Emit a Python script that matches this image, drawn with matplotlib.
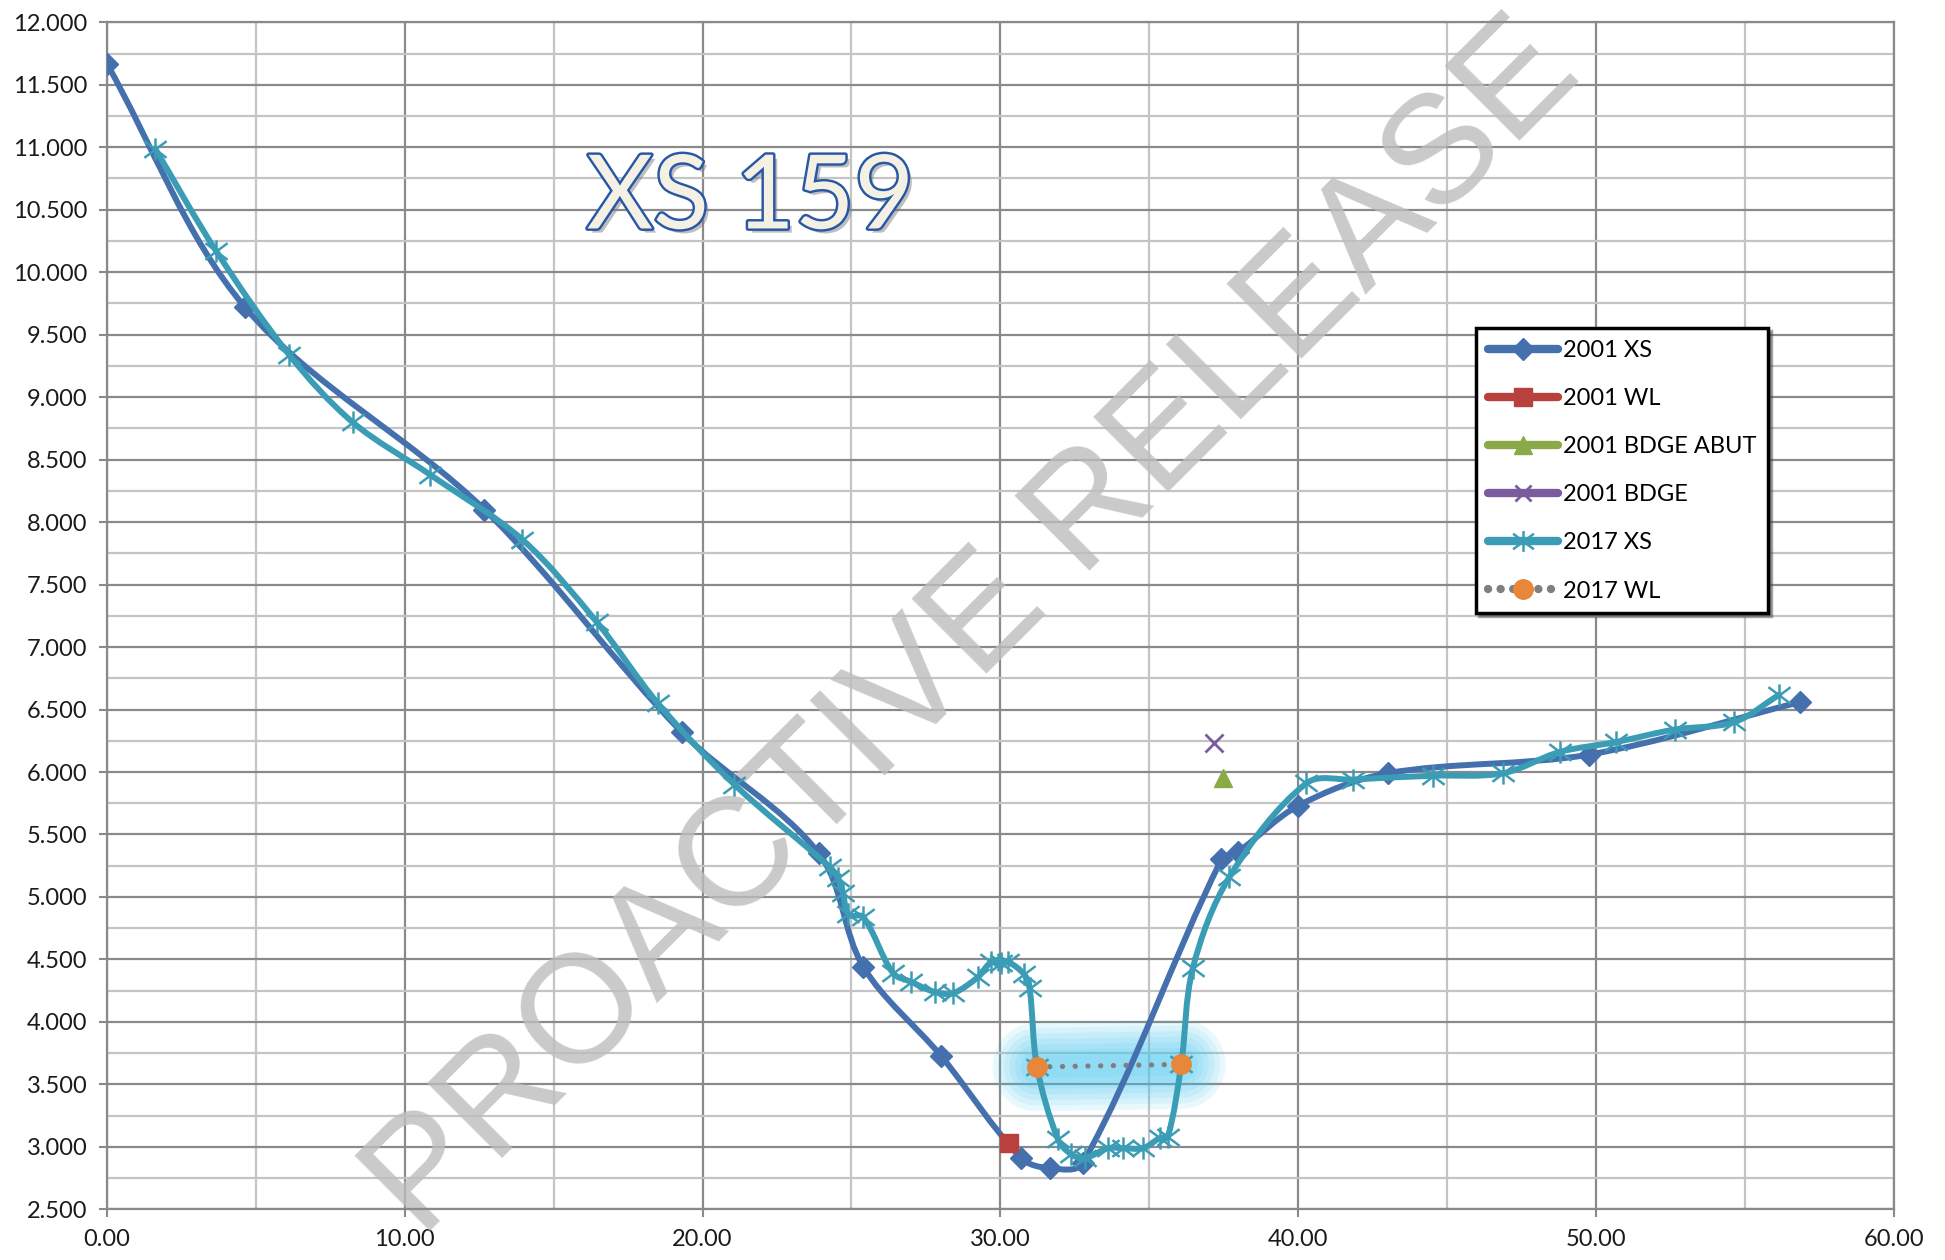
import matplotlib
matplotlib.use("Agg")
import matplotlib.pyplot as plt
import matplotlib.patheffects as pe
from matplotlib.lines import Line2D
from matplotlib.patches import PathPatch
from matplotlib.path import Path
from matplotlib.ticker import MultipleLocator, FormatStrFormatter
import numpy as np

# 2001 survey
XS2001_X = [0.0, 4.64, 12.68, 19.3, 23.9, 25.4, 28.0, 30.7, 31.65, 32.77,
            37.42, 37.97, 40.0, 43.0, 49.77, 56.85]
XS2001_Y = [11.67, 9.72, 8.10, 6.32, 5.35, 4.44, 3.73, 2.91, 2.83, 2.87,
            5.30, 5.36, 5.73, 5.99, 6.14, 6.56]
WL2001_X = [30.29]
WL2001_Y = [3.03]
ABUT2001_X = [37.47]
ABUT2001_Y = [5.95]
BDGE2001_X = [37.17]
BDGE2001_Y = [6.23]

# 2017 survey
XS2017_X = [1.62, 3.67, 6.12, 8.25, 10.85, 13.95, 16.45, 18.5, 21.07, 24.27,
            24.55, 24.72, 24.9, 25.39, 26.4, 27.01, 27.79, 28.41, 29.25, 29.7,
            30.03, 30.26, 30.8, 30.98, 31.23, 31.93, 32.38, 32.83, 33.61, 34.11,
            34.79, 35.35, 35.62, 36.07, 36.46, 37.69, 40.27, 41.83, 44.52, 46.87,
            48.77, 50.67, 52.63, 54.64, 56.15]
XS2017_Y = [10.99, 10.17, 9.34, 8.80, 8.38, 7.86, 7.20, 6.55, 5.90, 5.24,
            5.15, 5.03, 4.86, 4.84, 4.39, 4.32, 4.24, 4.23, 4.36, 4.48,
            4.47, 4.48, 4.38, 4.27, 3.64, 3.06, 2.94, 2.91, 2.99, 2.99,
            2.99, 3.07, 3.08, 3.66, 4.43, 5.16, 5.91, 5.94, 5.97, 5.99,
            6.16, 6.24, 6.34, 6.40, 6.62]
WL2017_X = [31.23, 36.07]
WL2017_Y = [3.64, 3.66]

BLUE = "#4470AE"
TEAL = "#3A9DB5"
RED = "#B8413E"
GREEN = "#8AAA48"
PURPLE = "#7A5C9E"
ORANGE = "#E8873A"
GRAY = "#7F7F7F"

# Excel style "star" marker: vertical bar plus an X
STAR = Path([(0, -1), (0, 1), (-1, -0.75), (1, 0.75), (-1, 0.75), (1, -0.75)],
            [Path.MOVETO, Path.LINETO] * 3)

# rough pixels per data unit, so the smoothing bends the same way on screen
SX, SY = 29.8, 125.0


def smooth_path(xs, ys, t=0.33):
    pts = np.column_stack([np.asarray(xs) * SX, np.asarray(ys) * SY])
    n = len(pts)
    tang = []
    for i in range(n):
        d = pts[min(i + 1, n - 1)] - pts[max(i - 1, 0)]
        tang.append(d / np.hypot(*d))
    verts = [pts[0]]
    codes = [Path.MOVETO]
    for i in range(n - 1):
        seg = np.hypot(*(pts[i + 1] - pts[i]))
        verts += [pts[i] + tang[i] * seg * t, pts[i + 1] - tang[i + 1] * seg * t, pts[i + 1]]
        codes += [Path.CURVE4] * 3
    verts = np.array(verts) / [SX, SY]
    return Path(verts, codes)


fig = plt.figure(figsize=(19.45, 12.6), dpi=100)
ax = fig.add_axes([0.0549, 0.0402, 0.9189, 0.9421])
ax.set_xlim(0, 60)
ax.set_ylim(2.5, 12)

ax.xaxis.set_major_locator(MultipleLocator(10))
ax.xaxis.set_minor_locator(MultipleLocator(5))
ax.yaxis.set_major_locator(MultipleLocator(0.5))
ax.yaxis.set_minor_locator(MultipleLocator(0.25))
ax.xaxis.set_major_formatter(FormatStrFormatter("%.2f"))
ax.yaxis.set_major_formatter(FormatStrFormatter("%.3f"))
ax.set_axisbelow(True)
ax.grid(which="major", color="#8A8A8A", lw=1.6)
ax.grid(which="minor", color="#C4C4C4", lw=1.6)
ax.tick_params(which="major", direction="out", length=6, width=1.5,
               color="#8A8A8A", pad=8, labelsize=17, labelcolor="#1A1A1A")
ax.tick_params(which="minor", length=0)
for lab in ax.get_xticklabels() + ax.get_yticklabels():
    lab.set_family("Lato")
for sp in ax.spines.values():
    sp.set_color("#8A8A8A")
    sp.set_linewidth(1.6)

# watermark
ax.text(0.501, 0.5, "PROACTIVE RELEASE", transform=fig.transFigure,
        rotation=45, rotation_mode="anchor", ha="center", va="center",
        fontsize=111, family="Liberation Sans", color="#BDBDBD", alpha=0.8,
        zorder=1.5)

# title
ax.text(21.6, 10.35, "XS 159", ha="center", va="baseline", fontsize=74,
        family="Lato", color="#F4F1E4", zorder=5,
        path_effects=[pe.SimplePatchShadow(offset=(3, -3), shadow_rgbFace="#7F7F7F", alpha=0.5),
                      pe.Stroke(linewidth=3.5, foreground="#2757A5"), pe.Normal()])

# soft glow around the 2017 water line
for w in [64, 56, 48, 40, 32, 24, 16]:
    ax.plot(WL2017_X, WL2017_Y, color="#3CC4F0", lw=w, alpha=0.11,
            solid_capstyle="round", zorder=2)

# 2001 XS
ax.add_patch(PathPatch(smooth_path(XS2001_X, XS2001_Y), facecolor="none",
                       edgecolor=BLUE, lw=4.3, capstyle="round", joinstyle="round", zorder=3))
ax.plot(XS2001_X, XS2001_Y, linestyle="none", marker="D", ms=11, color=BLUE, zorder=3.1)

# 2017 XS
ax.add_patch(PathPatch(smooth_path(XS2017_X, XS2017_Y), facecolor="none",
                       edgecolor=TEAL, lw=4.3, capstyle="round", joinstyle="round", zorder=3.2))
ax.plot(XS2017_X, XS2017_Y, linestyle="none", marker=STAR, ms=16, mew=1.8,
        color=TEAL, zorder=3.3)

# single points
ax.plot(WL2001_X, WL2001_Y, linestyle="none", marker="s", ms=13, color=RED, zorder=4)
ax.plot(ABUT2001_X, ABUT2001_Y, linestyle="none", marker="^", ms=13, color=GREEN, zorder=4)
ax.plot(BDGE2001_X, BDGE2001_Y, linestyle="none", marker="x", ms=13, mew=2, color=PURPLE, zorder=4)

# 2017 WL
ax.plot(WL2017_X, WL2017_Y, color=GRAY, lw=3.8, linestyle=(0, (0.01, 2.4)),
        dash_capstyle="round", zorder=3.5)
ax.plot(WL2017_X, WL2017_Y, linestyle="none", marker="o", ms=14, color=ORANGE, zorder=3.6)

handles = [
    Line2D([], [], color=BLUE, lw=6, marker="D", ms=11, solid_capstyle="round"),
    Line2D([], [], color=RED, lw=6, marker="s", ms=13, solid_capstyle="round"),
    Line2D([], [], color=GREEN, lw=6, marker="^", ms=13, solid_capstyle="round"),
    Line2D([], [], color=PURPLE, lw=6, marker="x", ms=12, mew=2, solid_capstyle="round"),
    Line2D([], [], color=TEAL, lw=6, marker=STAR, ms=15, mew=1.8, solid_capstyle="round"),
    Line2D([], [], color=GRAY, lw=6, linestyle=(0, (0.01, 1.5)), dash_capstyle="round",
           marker="o", ms=14, mfc=ORANGE, mec=ORANGE),
]
labels = ["2001 XS", "2001 WL", "2001 BDGE ABUT", "2001 BDGE", "2017 XS", "2017 WL"]
leg = ax.legend(handles, labels, loc="upper left", bbox_to_anchor=(0.766, 0.7425),
                prop={"family": "Lato", "size": 17}, handlelength=3.0,
                handletextpad=0.2, labelspacing=1.15, borderpad=0.5,
                borderaxespad=0, fancybox=False, shadow=True, framealpha=1)
leg.get_frame().set_edgecolor("black")
leg.get_frame().set_linewidth(2.5)
leg.set_zorder(6)

fig.savefig("out.png", dpi=100)
